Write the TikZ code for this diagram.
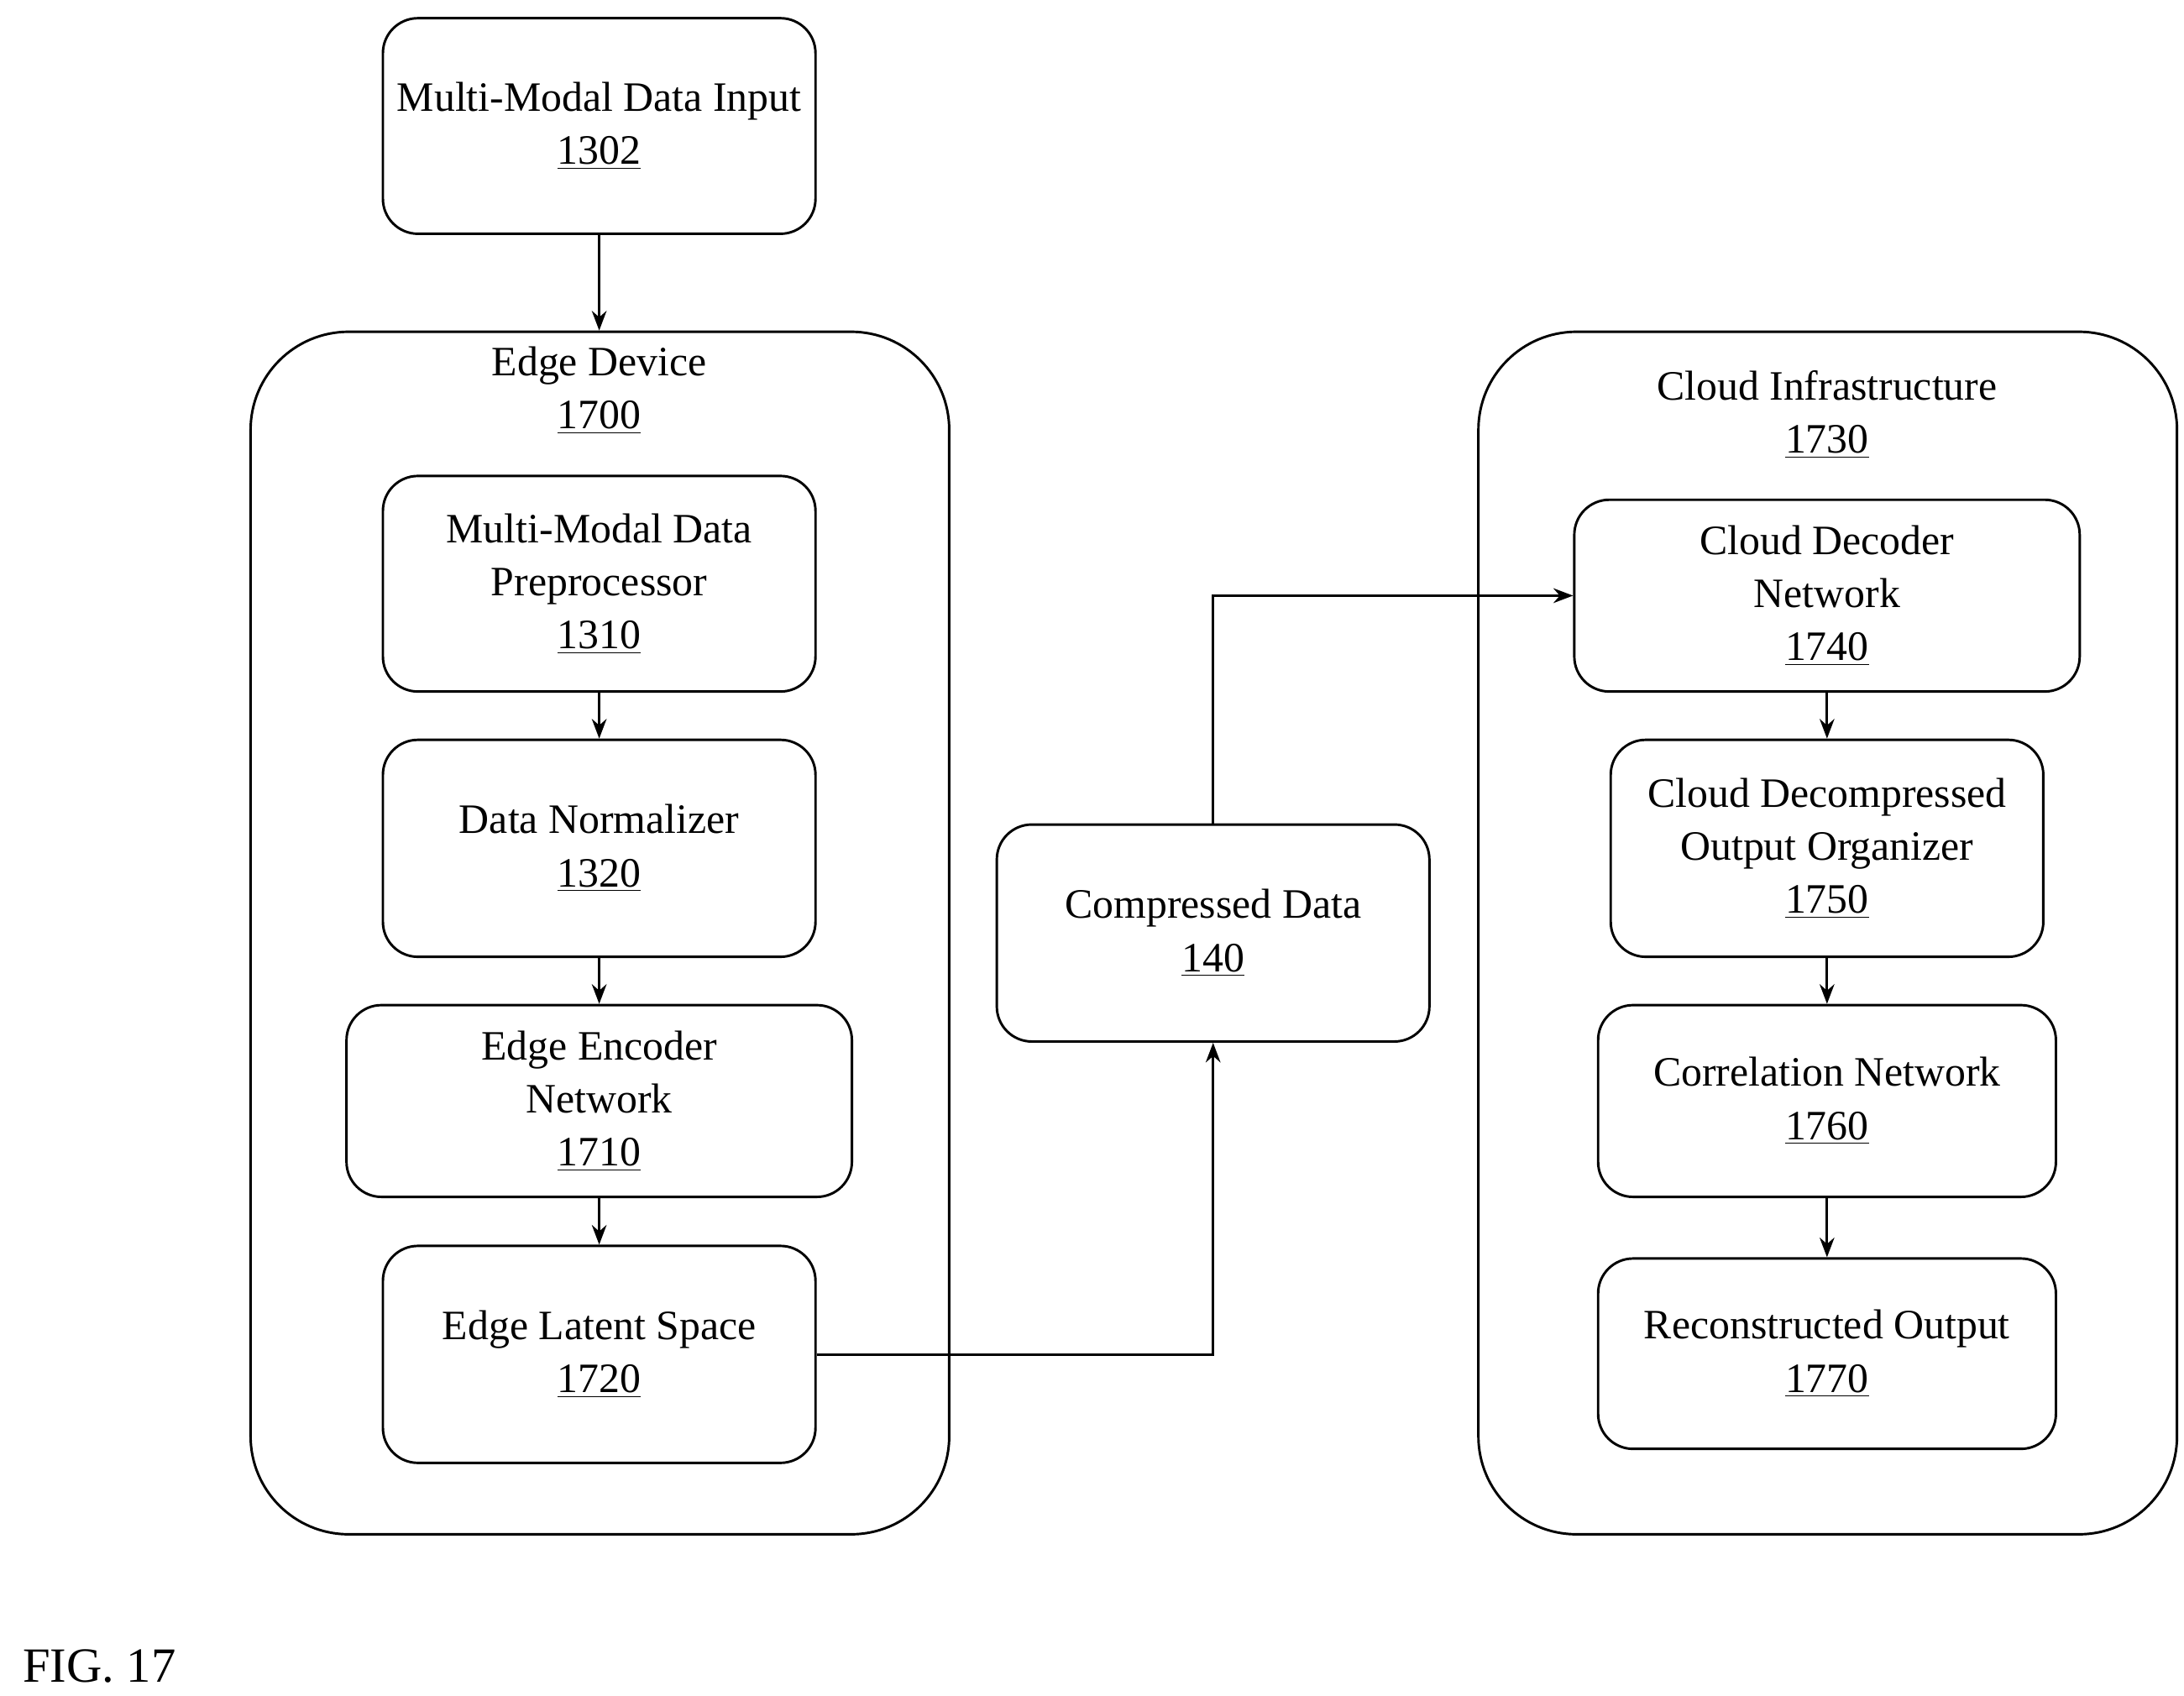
\documentclass[tikz,border=0pt]{standalone}
\usepackage{fontspec}
\setmainfont{Liberation Serif}
\usetikzlibrary{arrows.meta}
\tikzset{
  blk/.style={draw, rounded corners=0.5cm, line width=1pt, align=center, inner sep=0pt},
  grp/.style={draw, rounded corners=1.4cm, line width=1pt},
  arr/.style={-{Stealth[length=8pt,width=6pt]}, line width=1pt}
}
\begin{document}
\begin{tikzpicture}[font=\fontsize{17}{21.6}\selectfont]
\useasboundingbox (0,0) rectangle (31.2,-24.22);
% containers
\node[grp, minimum width=9.98cm, minimum height=17.18cm] (edge) at (8.57,-13.33) {};
\node[align=center] (edgelbl) at (8.56,-5.58) {Edge Device\\\underline{1700}};
\node[grp, minimum width=9.98cm, minimum height=17.18cm] (cloud) at (26.11,-13.33) {};
\node[align=center] (cloudlbl) at (26.1,-5.92) {Cloud Infrastructure\\\underline{1730}};
% blocks
\node[blk, minimum width=6.18cm, minimum height=3.08cm] (input) at (8.56,-1.8) {Multi-Modal Data Input\\\underline{1302}};
\node[blk, minimum width=6.18cm, minimum height=3.08cm] (pre) at (8.56,-8.34) {Multi-Modal Data\\Preprocessor\\\underline{1310}};
\node[blk, minimum width=6.18cm, minimum height=3.1cm] (norm) at (8.56,-12.12) {Data Normalizer\\\underline{1320}};
\node[blk, minimum width=7.22cm, minimum height=2.74cm] (enc) at (8.56,-15.73) {Edge Encoder\\Network\\\underline{1710}};
\node[blk, minimum width=6.18cm, minimum height=3.1cm] (latent) at (8.56,-19.35) {Edge Latent Space\\\underline{1720}};
\node[blk, minimum width=6.18cm, minimum height=3.1cm] (comp) at (17.33,-13.33) {Compressed Data\\\underline{140}};
\node[blk, minimum width=7.22cm, minimum height=2.74cm] (dec) at (26.1,-8.51) {Cloud Decoder\\Network\\\underline{1740}};
\node[blk, minimum width=6.18cm, minimum height=3.1cm] (org) at (26.1,-12.12) {Cloud Decompressed\\Output Organizer\\\underline{1750}};
\node[blk, minimum width=6.54cm, minimum height=2.74cm] (corr) at (26.1,-15.73) {Correlation Network\\\underline{1760}};
\node[blk, minimum width=6.54cm, minimum height=2.72cm] (recon) at (26.1,-19.34) {Reconstructed Output\\\underline{1770}};
\node[anchor=west, font=\fontsize{20}{24}\selectfont] (fig) at (0.2,-23.8) {FIG. 17};
% connectors
\draw[arr] (input) -- (edge.north -| input);
\draw[arr] (pre) -- (norm);
\draw[arr] (norm) -- (enc);
\draw[arr] (enc) -- (latent);
\draw[arr] (latent.east) -| (comp.south);
\draw[arr] (comp.north) |- (dec.west);
\draw[arr] (dec) -- (org);
\draw[arr] (org) -- (corr);
\draw[arr] (corr) -- (recon);
\end{tikzpicture}
\end{document}
